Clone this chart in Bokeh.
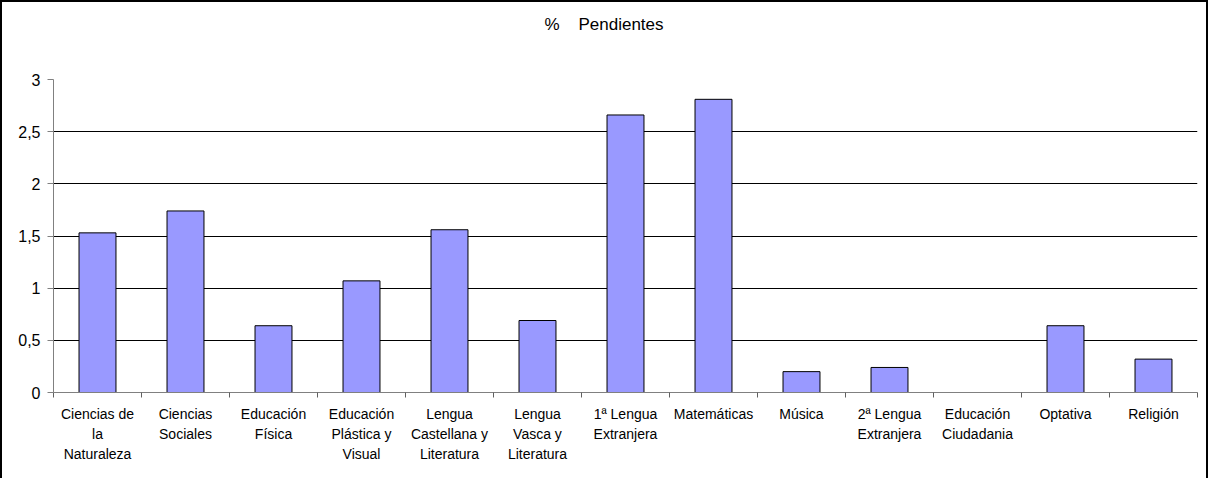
from bokeh.plotting import figure
from bokeh.models import FixedTicker, Range1d, ColumnDataSource, Div
from bokeh.layouts import column
from bokeh.embed import file_html
from bokeh.resources import INLINE

categories = ["Ciencias de la Naturaleza", "Ciencias Sociales", "Educación Física",
              "Educación Plástica y Visual", "Lengua Castellana y Literatura",
              "Lengua Vasca y Literatura", "1ª Lengua Extranjera", "Matemáticas",
              "Música", "2ª Lengua Extranjera", "Educación Ciudadania", "Optativa", "Religión"]
tick_labels = ["Ciencias de\nla\nNaturaleza", "Ciencias\nSociales", "Educación\nFísica",
               "Educación\nPlástica y\nVisual", "Lengua\nCastellana y\nLiteratura",
               "Lengua\nVasca y\nLiteratura", "1ª Lengua\nExtranjera", "Matemáticas",
               "Música", "2ª Lengua\nExtranjera", "Educación\nCiudadania", "Optativa", "Religión"]
values = [1.53, 1.74, 0.64, 1.07, 1.56, 0.69, 2.66, 2.81, 0.20, 0.24, 0.0, 0.64, 0.32]
y_ticks = [0, 0.5, 1, 1.5, 2, 2.5, 3]
y_tick_labels = ["0", "0,5", "1", "1,5", "2", "2,5", "3"]
title_text = "%    Pendientes"

n = len(categories)
pos = list(range(n))
source = ColumnDataSource(dict(x=pos, top=values, name=categories))

FONT = "Liberation Sans"

title_div = Div(text=title_text, width=1208, height=50, margin=0,
                styles={"font-family": FONT, "font-size": "17px", "text-align": "center",
                        "line-height": "50px", "white-space": "pre", "color": "#000000"})

p = figure(width=1208, height=428, output_backend="svg", toolbar_location=None,
           x_range=Range1d(-0.5, n - 0.5), y_range=Range1d(0, 3),
           min_border_left=53, min_border_right=11, min_border_top=29, min_border_bottom=86)
p.background_fill_color = None
p.border_fill_color = None
p.outline_line_color = None

p.vbar(x="x", top="top", bottom=0, width=0.42, source=source,
       fill_color="#9999FF", line_color="#000000", line_width=1)

# y axis
p.yaxis.ticker = FixedTicker(ticks=y_ticks)
p.yaxis.major_label_overrides = {t: l for t, l in zip(y_ticks, y_tick_labels)}
p.yaxis.axis_line_color = "#808080"
p.yaxis.major_tick_line_color = "#808080"
p.yaxis.major_tick_out = 6
p.yaxis.major_tick_in = 0
p.yaxis.minor_tick_line_color = None
p.yaxis.major_label_text_font = FONT
p.yaxis.major_label_text_font_size = "16px"
p.yaxis.major_label_text_color = "#000000"
p.yaxis.major_label_standoff = 7

p.ygrid.ticker = FixedTicker(ticks=y_ticks)
p.ygrid.grid_line_color = "#000000"
p.ygrid.grid_line_width = 1
p.xgrid.grid_line_color = None

# x axis: labels at centers, ticks at category boundaries
p.xaxis.ticker = FixedTicker(ticks=pos, minor_ticks=[i - 0.5 for i in range(n + 1)])
p.xaxis.major_label_overrides = {i: l for i, l in zip(pos, tick_labels)}
p.xaxis.axis_line_color = "#808080"
p.xaxis.major_tick_line_color = None
p.xaxis.minor_tick_line_color = "#606060"
p.xaxis.minor_tick_out = 5
p.xaxis.minor_tick_in = 0
p.xaxis.major_label_text_font = FONT
p.xaxis.major_label_text_font_size = "14px"
p.xaxis.major_label_text_color = "#000000"
p.xaxis.major_label_text_line_height = 1.27
p.xaxis.major_label_standoff = 7

layout = column(title_div, p, spacing=0, width=1208, height=478,
                styles={"box-shadow": "inset 2px 2px 0 0 #000, inset -2px 0 0 0 #000"})

open("out.html", "w").write(file_html(layout, INLINE))
